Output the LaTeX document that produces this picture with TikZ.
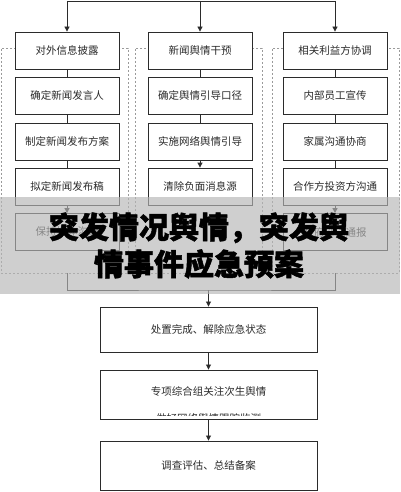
\documentclass[tikz,border=0pt]{standalone}
\usepackage{fontspec}
\setmainfont{Noto Sans CJK SC}
\newfontfamily\titlefont{Noto Sans CJK SC}[BoldFeatures={FakeBold=1.6}]
\usetikzlibrary{arrows.meta,positioning}
\definecolor{ink}{HTML}{2B2B2B}
\definecolor{frame}{HTML}{9A9A9A}
\definecolor{veil}{HTML}{B6B6B6}

\begin{document}
\begin{tikzpicture}[x=1pt,y=-1pt,>={Triangle[length=5pt,width=5pt]},
  every node/.style={font=\fontsize{10.5}{12}\selectfont,text=ink},
  stepbox/.style={draw=ink,fill=white,line width=0.8pt,minimum width=104pt,minimum height=37pt,inner sep=0pt},
  finbox/.style={draw=ink,fill=white,line width=0.9pt,minimum width=217pt,inner sep=0pt},
  grouprect/.style={draw=frame,dash pattern=on 2pt off 2pt,line width=0.5pt,minimum width=127pt,minimum height=225pt,inner sep=0pt},
  link/.style={draw=ink,line width=0.8pt}]
  \useasboundingbox (0,0) rectangle (400,492);

  % dashed groups
  \foreach \g/\x in {1/64.5,2/198.5,3/335.5}
    \node[grouprect] (g\g) at (\x,160.5) {};

  % three columns
  \foreach \r/\y/\lab in {1/50.5/对外信息披露,2/95.5/确定新闻发言人,3/141.5/制定新闻发布方案,4/186.5/拟定新闻发布稿,5/232/保持媒体沟通}
    \node[stepbox] (c1r\r) at (67,\y) {\lab};
  \foreach \r/\y/\lab in {1/50.5/新闻舆情干预,2/95.5/确定舆情引导口径,3/141.5/实施网络舆情引导,4/186.5/清除负面消息源}
    \node[stepbox] (c2r\r) at (200,\y) {\lab};
  \foreach \r/\y/\lab in {1/50.5/相关利益方协调,2/95.5/内部员工宣传,3/141.5/家属沟通协商,4/186.5/合作方投资方沟通,5/232/政府部门通报}
    \node[stepbox] (c3r\r) at (335,\y) {\lab};

  \foreach \a/\b in {c1r1/c1r2,c1r2/c1r3,c1r3/c1r4,c2r1/c2r2,c2r2/c2r3,c3r1/c3r2,c3r2/c3r3,c3r3/c3r4}
    \draw[link] (\a) -- (\b);
  \foreach \a/\b in {c1r4/c1r5,c2r3/c2r4,c3r4/c3r5}
    \draw[link,->] (\a) -- (\b);

  % top split
  \coordinate (t1) at (67,1);
  \coordinate (t2) at (200,1);
  \coordinate (t3) at (335,1);
  \draw[link] (t1) -- (t3);
  \foreach \k in {1,2,3}
    \draw[link,->] (t\k) -- (c\k r1);

  % closing steps
  \node[finbox,minimum height=45pt] (fin1) at (208.5,329.5) {处置完成、解除应急状态};
  \node[finbox,minimum height=49pt] (fin2) at (208.5,394.5) {};
  \node (fin2a) at (208.5,391) {专项综合组关注次生舆情};
  \begin{scope}
    \clip (101,371) rectangle (316,415);
    \node (fin2b) at (208.5,418) {做好网络舆情跟踪监测};
  \end{scope}
  \node[finbox,minimum height=49pt] (fin3) at (208.5,465.5) {调查评估、总结备案};

  \coordinate (merge) at (208.5,290);
  \draw[link] (g1.south -| c1r1) |- (merge) -| (g3.south -| c3r1);
  \draw[link,->] (merge) -- (fin1);
  \draw[link,->] (fin1) -- (fin2);
  \draw[link,->] (fin2) -- (fin3);

  % title banner
  \fill[veil,opacity=0.66] (0,197) rectangle (400,294);
  \node[font=\titlefont\fontsize{30}{37}\selectfont\bfseries,text=black,align=center] (title) at (199,245.5)
    {突发情况舆情，突发舆\\情事件应急预案};
\end{tikzpicture}
\end{document}
